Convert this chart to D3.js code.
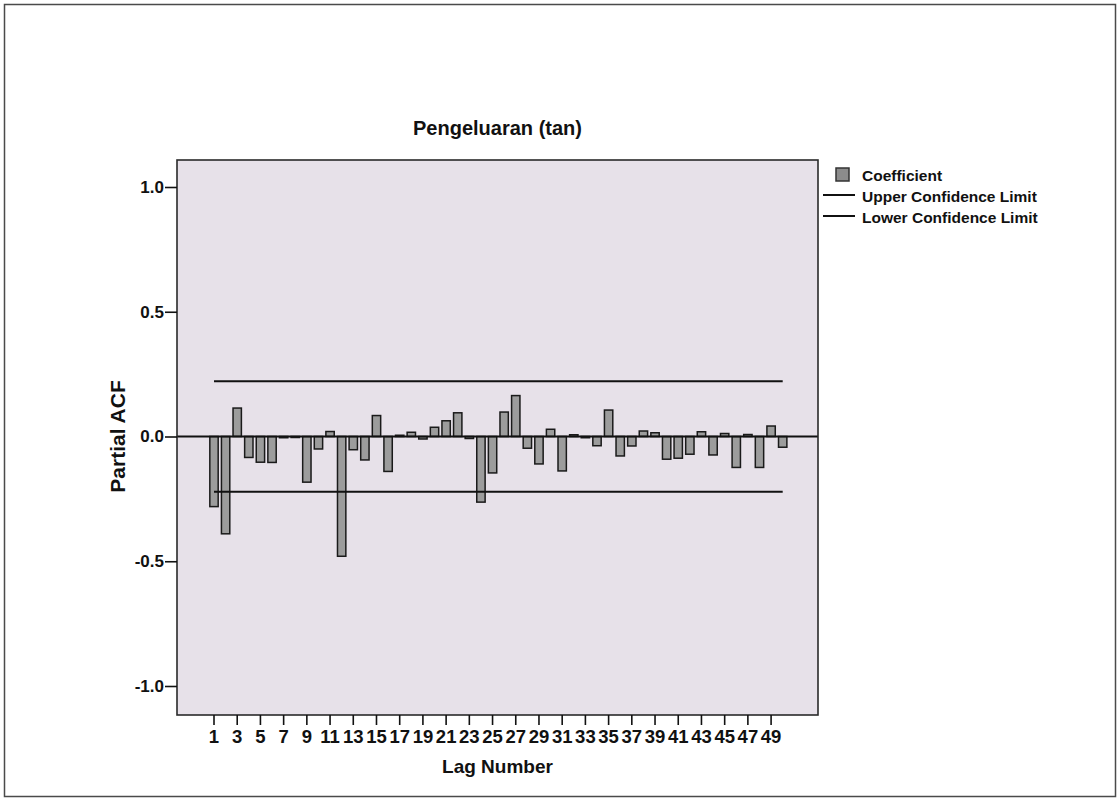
<!DOCTYPE html>
<html>
<head>
<meta charset="utf-8">
<script src="https://cdn.jsdelivr.net/npm/d3@7/dist/d3.min.js"></script>
<style>
  html, body { margin: 0; padding: 0; background: #ffffff; }
  svg { display: block; }
  text { font-family: "Liberation Sans", Arial, sans-serif; }
</style>
</head>
<body>
<svg id="chart" width="1120" height="801"></svg>
<script>
// ---- data ----
const title = "Pengeluaran (tan)";
const xTitle = "Lag Number";
const yTitle = "Partial ACF";
const lags = [1,2,3,4,5,6,7,8,9,10,11,12,13,14,15,16,17,18,19,20,21,22,23,24,25,
              26,27,28,29,30,31,32,33,34,35,36,37,38,39,40,41,42,43,44,45,46,47,48,49,50];
const coefficient = [-0.281,-0.390,0.114,-0.084,-0.103,-0.104,-0.005,-0.004,-0.183,-0.050,
                     0.020,-0.480,-0.053,-0.094,0.084,-0.140,0.005,0.017,-0.010,0.037,
                     0.063,0.095,-0.008,-0.263,-0.146,0.098,0.164,-0.047,-0.110,0.029,
                     -0.138,0.007,-0.005,-0.037,0.106,-0.078,-0.038,0.022,0.015,-0.091,
                     -0.087,-0.071,0.019,-0.074,0.012,-0.124,0.008,-0.124,0.042,-0.043];
const upperLimit = 0.221;
const lowerLimit = -0.221;
const xTickLabels = [1,3,5,7,9,11,13,15,17,19,21,23,25,27,29,31,33,35,37,39,41,43,45,47,49];
const yTickValues = [-1.0,-0.5,0.0,0.5,1.0];
const yTickLabels = ["-1.0","-0.5","0.0","0.5","1.0"];
const legendLabels = ["Coefficient","Upper Confidence Limit","Lower Confidence Limit"];

// ---- layout ----
const svg = d3.select("#chart");
const plot = {left: 177, right: 818, top: 160, bottom: 715};

// outer border
svg.append("rect").attr("x", 4.5).attr("y", 4.5).attr("width", 1111).attr("height", 792)
  .attr("fill", "#ffffff").attr("stroke", "#4a4a4a").attr("stroke-width", 1.5);

const x = d3.scaleBand().domain(lags).range([208.2, 788.5]).paddingInner(0.28).paddingOuter(0.14);
const y = d3.scaleLinear().domain([-1, 1]).range([686, 187]);

// plot background
svg.append("rect").attr("x", plot.left).attr("y", plot.top)
  .attr("width", plot.right - plot.left).attr("height", plot.bottom - plot.top)
  .attr("fill", "#e7e1e9");

// title
svg.append("text").attr("x", (plot.left + plot.right) / 2).attr("y", 135)
  .attr("text-anchor", "middle").attr("font-size", 20).attr("font-weight", "bold")
  .attr("fill", "#111").text(title);

// bars
svg.append("g").selectAll("rect").data(lags).join("rect")
  .attr("x", d => x(d))
  .attr("width", x.bandwidth())
  .attr("y", (d, i) => y(Math.max(0, coefficient[i])))
  .attr("height", (d, i) => Math.abs(y(coefficient[i]) - y(0)))
  .attr("fill", "#9c9c9c").attr("stroke", "#1a1a1a").attr("stroke-width", 1.5);

// zero line
svg.append("line").attr("x1", plot.left).attr("x2", plot.right)
  .attr("y1", y(0)).attr("y2", y(0)).attr("stroke", "#111").attr("stroke-width", 2);

// confidence limits
const cx1 = x(lags[0]) + x.bandwidth() / 2;
const cx2 = x(lags[lags.length - 1]) + x.bandwidth() / 2;
[upperLimit, lowerLimit].forEach(v => {
  svg.append("line").attr("x1", cx1).attr("x2", cx2)
    .attr("y1", y(v)).attr("y2", y(v)).attr("stroke", "#111").attr("stroke-width", 2);
});

// frame
svg.append("rect").attr("x", plot.left).attr("y", plot.top)
  .attr("width", plot.right - plot.left).attr("height", plot.bottom - plot.top)
  .attr("fill", "none").attr("stroke", "#2a2a2a").attr("stroke-width", 1.6);

// y axis
const yAxis = d3.axisLeft(y).tickValues(yTickValues).tickSize(12).tickPadding(1)
  .tickFormat((d, i) => yTickLabels[i]);
const gy = svg.append("g").attr("transform", `translate(${plot.left},0)`).call(yAxis);
gy.select(".domain").remove();
gy.selectAll("line").attr("stroke", "#111").attr("stroke-width", 1.6);
gy.selectAll("text").attr("font-size", 17).attr("font-weight", "bold").attr("fill", "#111")
  .attr("font-family", "Liberation Sans, Arial, sans-serif");

// x axis
const xAxis = d3.axisBottom(x).tickValues(xTickLabels).tickSize(10).tickPadding(5);
const gx = svg.append("g").attr("transform", `translate(0,${plot.bottom})`).call(xAxis);
gx.select(".domain").remove();
gx.selectAll("line").attr("stroke", "#111").attr("stroke-width", 1.6);
gx.selectAll("text").attr("font-size", 18.5).attr("font-weight", "bold").attr("fill", "#111")
  .attr("font-family", "Liberation Sans, Arial, sans-serif");

// axis titles
svg.append("text").attr("x", (plot.left + plot.right) / 2).attr("y", 773)
  .attr("text-anchor", "middle").attr("font-size", 19).attr("font-weight", "bold")
  .attr("fill", "#111").text(xTitle);
svg.append("text").attr("transform", `translate(125,${y(0)}) rotate(-90)`)
  .attr("text-anchor", "middle").attr("font-size", 21).attr("font-weight", "bold")
  .attr("fill", "#111").text(yTitle);

// legend
const lg = svg.append("g");
lg.append("rect").attr("x", 836).attr("y", 168).attr("width", 13).attr("height", 13)
  .attr("fill", "#8c8c8c").attr("stroke", "#333").attr("stroke-width", 1.5);
lg.append("line").attr("x1", 823).attr("x2", 855).attr("y1", 195).attr("y2", 195)
  .attr("stroke", "#111").attr("stroke-width", 2);
lg.append("line").attr("x1", 823).attr("x2", 855).attr("y1", 216).attr("y2", 216)
  .attr("stroke", "#111").attr("stroke-width", 2);
lg.selectAll("text.lbl").data(legendLabels).join("text").attr("class", "lbl")
  .attr("x", 862).attr("y", (d, i) => 181 + i * 21)
  .attr("font-size", 15.5).attr("font-weight", "bold").attr("fill", "#111")
  .text(d => d);
</script>
</body>
</html>
